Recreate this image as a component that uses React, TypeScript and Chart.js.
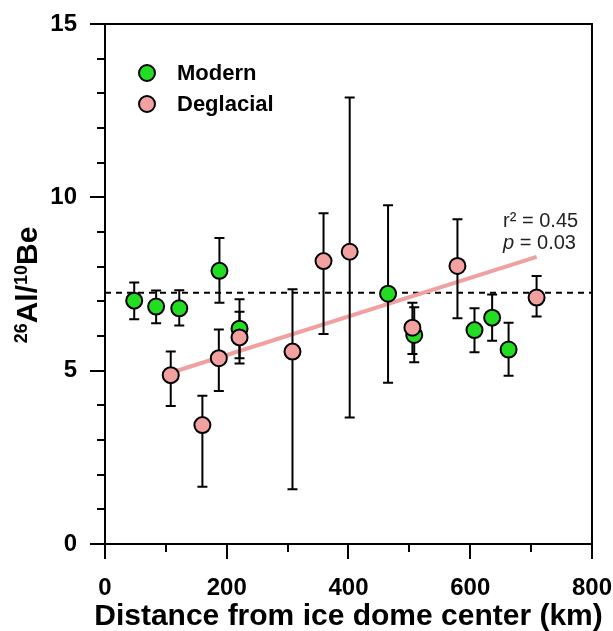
import React, { useEffect, useRef } from 'react';
import { Chart, registerables } from 'chart.js';

Chart.register(...registerables);

// ---- data ----
const modernX = [48, 84, 122, 188, 221, 465, 508, 607, 636, 663];
const modernY = [7.02, 6.85, 6.8, 7.88, 6.21, 7.22, 6.03, 6.17, 6.53, 5.61];
const modernLow = [6.48, 6.37, 6.3, 6.96, 5.36, 4.65, 5.24, 5.53, 5.86, 4.85];
const modernHigh = [7.54, 7.31, 7.32, 8.83, 7.06, 9.77, 6.83, 6.8, 7.2, 6.38];

const deglacialX = [108, 160, 187, 221, 308, 359, 402, 505, 579, 709];
const deglacialY = [4.87, 3.43, 5.36, 5.96, 5.55, 8.16, 8.43, 6.24, 8.02, 7.11];
const deglacialLow = [3.98, 1.65, 4.41, 5.21, 1.58, 6.06, 3.65, 5.48, 6.51, 6.56];
const deglacialHigh = [5.55, 4.28, 6.19, 6.7, 7.35, 9.54, 12.88, 6.96, 9.37, 7.73];

const regressionX = [108, 709];
const regressionY = [4.94, 8.28];
const referenceX = [0, 800];
const referenceY = [7.25, 7.25];

const xMinorTicks = [100, 300, 500, 700];
const yMinorTicks = [1, 2, 3, 4, 6, 7, 8, 9, 11, 12, 13, 14];

const statLines = ['r² = 0.45', 'p = 0.03'];

const xTitle = 'Distance from ice dome center (km)';
// y title: ²⁶Al/¹⁰Be, drawn with real superscripts
const yTitleParts = [
  { text: '26', sup: true },
  { text: 'Al/', sup: false },
  { text: '10', sup: true },
  { text: 'Be', sup: false },
];

const FONT = '"Liberation Sans", Arial, Helvetica, sans-serif';
const GREEN = '#22dd22';
const PINK = '#f2a0a0';
const REG = 'rgb(240,160,160)';

const toPts = (xs: number[], ys: number[]) => xs.map((x, i) => ({ x, y: ys[i] }));

const extras = {
  id: 'extras',
  beforeDatasetDraw(chart: any, args: any) {
    if (args.index !== 2) return;
    const ctx = chart.ctx;
    const xs = chart.scales.x;
    const ys = chart.scales.y;
    ctx.save();
    ctx.strokeStyle = '#000';
    ctx.lineWidth = 2;
    const draw = (X: number[], lo: number[], hi: number[]) => {
      X.forEach((v, i) => {
        const px = xs.getPixelForValue(v);
        const p1 = ys.getPixelForValue(lo[i]);
        const p2 = ys.getPixelForValue(hi[i]);
        ctx.beginPath();
        ctx.moveTo(px, p1);
        ctx.lineTo(px, p2);
        ctx.moveTo(px - 5, p1);
        ctx.lineTo(px + 5, p1);
        ctx.moveTo(px - 5, p2);
        ctx.lineTo(px + 5, p2);
        ctx.stroke();
      });
    };
    draw(modernX, modernLow, modernHigh);
    draw(deglacialX, deglacialLow, deglacialHigh);
    ctx.restore();
  },
  afterDraw(chart: any) {
    const ctx = chart.ctx;
    const { left, right, top, bottom } = chart.chartArea;
    const xs = chart.scales.x;
    const ys = chart.scales.y;
    ctx.save();
    ctx.strokeStyle = '#000';
    ctx.lineWidth = 2;
    // top and right frame
    ctx.beginPath();
    ctx.moveTo(left, top);
    ctx.lineTo(right, top);
    ctx.lineTo(right, bottom);
    ctx.stroke();
    // minor ticks
    ctx.beginPath();
    xMinorTicks.forEach((v) => {
      const px = Math.round(xs.getPixelForValue(v));
      ctx.moveTo(px, bottom);
      ctx.lineTo(px, bottom + 8);
    });
    yMinorTicks.forEach((v) => {
      const py = Math.round(ys.getPixelForValue(v));
      ctx.moveTo(left, py);
      ctx.lineTo(left - 8, py);
    });
    ctx.stroke();

    // x axis title
    ctx.fillStyle = '#000';
    ctx.font = `bold 30px ${FONT}`;
    ctx.textAlign = 'center';
    ctx.textBaseline = 'alphabetic';
    ctx.fillText(xTitle, (left + right) / 2, bottom + 81);

    // y axis title with superscripts
    ctx.save();
    ctx.translate(37, (top + bottom) / 2 + 1);
    ctx.rotate(-Math.PI / 2);
    ctx.textAlign = 'left';
    let total = 0;
    yTitleParts.forEach((p) => {
      ctx.font = `bold ${p.sup ? 18 : 30}px ${FONT}`;
      total += ctx.measureText(p.text).width;
    });
    let cx = -total / 2;
    yTitleParts.forEach((p) => {
      ctx.font = `bold ${p.sup ? 18 : 30}px ${FONT}`;
      ctx.fillText(p.text, cx, p.sup ? -10 : 0);
      cx += ctx.measureText(p.text).width;
    });
    ctx.restore();

    // legend
    const ds = chart.data.datasets;
    const items = [ds[2], ds[3]];
    items.forEach((d: any, i: number) => {
      const lx = left + 42;
      const ly = top + 49 + i * 31;
      ctx.beginPath();
      ctx.arc(lx, ly, 8, 0, Math.PI * 2);
      ctx.fillStyle = d.backgroundColor;
      ctx.fill();
      ctx.lineWidth = 2;
      ctx.strokeStyle = '#000';
      ctx.stroke();
      ctx.fillStyle = '#000';
      ctx.font = `bold 22px ${FONT}`;
      ctx.textAlign = 'left';
      ctx.textBaseline = 'middle';
      ctx.fillText(d.label, lx + 30, ly + 1);
    });

    // statistics annotation
    const sx = xs.getPixelForValue(654);
    const sy = ys.getPixelForValue(9.3);
    ctx.fillStyle = '#222';
    ctx.textBaseline = 'middle';
    ctx.textAlign = 'left';
    ctx.font = `20px ${FONT}`;
    ctx.fillText(statLines[0], sx, sy);
    const line2 = statLines[1];
    ctx.font = `italic 20px ${FONT}`;
    ctx.fillText(line2.charAt(0), sx, sy + 22);
    const w = ctx.measureText(line2.charAt(0)).width;
    ctx.font = `20px ${FONT}`;
    ctx.fillText(line2.slice(1), sx + w, sy + 22);
    ctx.restore();
  },
};

export default function App() {
  const ref = useRef<HTMLCanvasElement | null>(null);
  useEffect(() => {
    if (!ref.current) return;
    const chart = new Chart(ref.current, {
      type: 'scatter',
      data: {
        datasets: [
          { type: 'line', label: 'reference', data: toPts(referenceX, referenceY), borderColor: '#000', borderWidth: 2, borderDash: [6, 5], pointRadius: 0, fill: false, order: 3 },
          { type: 'line', label: 'regression', data: toPts(regressionX, regressionY), borderColor: REG, borderWidth: 4, pointRadius: 0, fill: false, order: 2 },
          { label: 'Modern', data: toPts(modernX, modernY), backgroundColor: GREEN, borderColor: '#000', borderWidth: 2, pointRadius: 8, order: 1 },
          { label: 'Deglacial', data: toPts(deglacialX, deglacialY), backgroundColor: PINK, borderColor: '#000', borderWidth: 2, pointRadius: 8, order: 0 },
        ],
      } as any,
      options: {
        animation: false,
        responsive: false,
        events: [],
        layout: { padding: { top: 24, right: 21, left: 0, bottom: 0 } },
        plugins: { legend: { display: false }, tooltip: { enabled: false } },
        scales: {
          x: {
            type: 'linear', min: 0, max: 800,
            ticks: { stepSize: 200, color: '#000', font: { family: FONT, size: 24, weight: 'bold', lineHeight: 2.37 }, padding: 1, maxRotation: 0 },
            grid: { drawOnChartArea: false, drawTicks: true, tickLength: 15, color: '#000', lineWidth: 2 },
            border: { display: true, color: '#000', width: 2 },
            title: { display: false },
            afterFit: (s: any) => { s.height = 87; },
          },
          y: {
            type: 'linear', min: 0, max: 15,
            ticks: { stepSize: 5, color: '#000', font: { family: FONT, size: 24, weight: 'bold', lineHeight: 0.9 }, padding: 13 },
            grid: { drawOnChartArea: false, drawTicks: true, tickLength: 15, color: '#000', lineWidth: 2 },
            border: { display: true, color: '#000', width: 2 },
            title: { display: false },
            afterFit: (s: any) => { s.width = 105; },
          },
        },
      } as any,
      plugins: [extras],
    });
    return () => chart.destroy();
  }, []);
  return (
    <div style={{ position: 'absolute', left: 0, top: 0, width: 613, height: 631, background: '#fff' }}>
      <canvas ref={ref} width={613} height={631} />
    </div>
  );
}
